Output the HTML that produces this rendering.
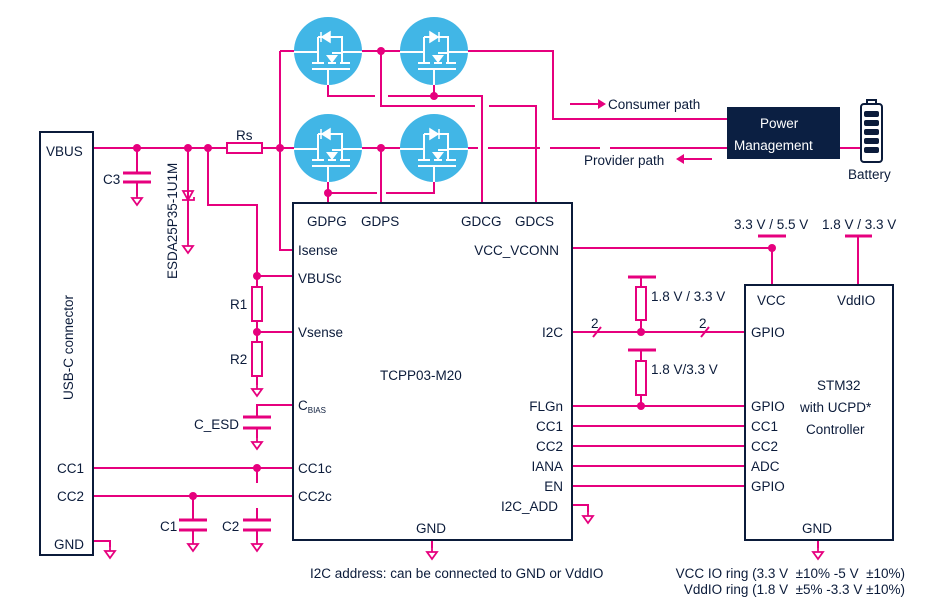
<!DOCTYPE html>
<html><head><meta charset="utf-8"><style>
html,body{margin:0;padding:0;background:#fff}
svg{display:block}
text{font-family:"Liberation Sans",sans-serif;font-size:13.5px;fill:#0b1b3a;white-space:pre}
</style></head><body>
<svg width="925" height="611" viewBox="0 0 925 611" xmlns="http://www.w3.org/2000/svg">
<defs>
<g id="gnd"><path d="M0 0 V6 M-5 6 H5 L0 13 Z" fill="none" stroke="#e6007e" stroke-width="1.8"/></g>
<g id="fet">
<circle r="34" fill="#41b6e6"/>
<g stroke="#fff" stroke-width="2" fill="none">
<path d="M-34 1 H-10 M14 1 H34 M-10 -14 V12 M-10 -14 H14 V12 M-16 12 H-4 M0 12 H8 M12 12 H22 M-16 18 H22 M4 2 H14 M0 18 V34"/>
</g>
<path d="M-2 4 H10 L4 12 Z" fill="#fff"/>
</g>
</defs>
<g stroke="#e6007e" stroke-width="2" fill="none">
<path d="M93 148 H227 M262 148 H295"/>
<rect x="227" y="143" width="35" height="10"/>
<path d="M137 148 V173"/>
<path d="M123 173 H151 M123 182 H151" stroke-width="3"/>
<path d="M137 182 V196"/>
<path d="M188 148 V240"/>
<path d="M208 148 V205 H257 V287 M257 276 H293"/>
<rect x="252" y="287" width="10" height="34"/>
<path d="M257 321 V342 M257 332 H293"/>
<rect x="252" y="342" width="10" height="34"/>
<path d="M257 376 V385"/>
<path d="M293 405 H257 V417"/>
<path d="M243 417 H271 M243 428 H271" stroke-width="3"/>
<path d="M257 428 V438"/>
<path d="M93 468 H293 M257 468 V483 M93 496 H293"/>
<path d="M193 496 V520 M257 508 V520"/>
<path d="M179 520 H207 M179 530 H207 M243 520 H271 M243 530 H271" stroke-width="3"/>
<path d="M193 530 V540 M257 530 V540"/>
<path d="M93 541 H110 V547"/>
<path d="M280 51 H294 M280 51 V250 H293"/>
<path d="M362 51 H401 M468 51 H553 V119 H727"/>
<path d="M362 148 H401"/>
<path d="M468 148 H478 M488 148 H540 M550 148 H600 M610 148 H727" />
<path d="M328 85 V96 H375 M388 96 H482 V203"/>
<path d="M434 85 V96"/>
<path d="M381 51 V106 H475 M489 106 H536 V203"/>
<path d="M328 182 V203 M328 193 H377 M386 193 H434 V182"/>
<path d="M381 148 V203"/>
<path d="M840 148 H862"/>
<path d="M570 104 H598 M712 159 H684"/>
<path d="M572 248 H772 V285 M858 237 V285"/>
<path d="M758 236 H786 M845 236 H872" stroke-width="3"/>
<path d="M572 332 H745"/>
<path d="M593 337 L601 327 M701 337 L709 327"/>
<path d="M628 277 H656" stroke-width="3"/>
<path d="M641 277 V287 M641 320 V332"/>
<rect x="636" y="287" width="10" height="33"/>
<path d="M628 350 H656" stroke-width="3"/>
<path d="M641 350 V361 M641 395 V406"/>
<rect x="636" y="361" width="10" height="34"/>
<path d="M572 406 H745 M572 426 H745 M572 446 H745 M572 466 H745 M572 486 H745"/>
<path d="M572 505 H588 V512"/>
<path d="M432 540 V548 M818 540 V548"/>
</g>
<g stroke="#e6007e" stroke-width="1.8" fill="none">
<path d="M183 191 L188 200 L193 191 Z M182 200 H194 V197"/>
</g>
<g fill="#e6007e">
<path d="M598 99 L606 104 L598 109 Z M684 154 L676 159 L684 164 Z"/>
<circle cx="137" cy="148" r="4"/><circle cx="188" cy="148" r="4"/><circle cx="208" cy="148" r="4"/><circle cx="280" cy="148" r="4"/>
<circle cx="257" cy="276" r="4"/><circle cx="257" cy="332" r="4"/><circle cx="257" cy="468" r="4"/><circle cx="193" cy="496" r="4"/>
<circle cx="381" cy="51" r="4"/><circle cx="381" cy="148" r="4"/><circle cx="434" cy="96" r="4"/><circle cx="328" cy="193" r="4"/>
<circle cx="772" cy="248" r="4"/><circle cx="641" cy="332" r="4"/><circle cx="641" cy="406" r="4"/>
</g>
<use href="#gnd" x="137" y="192"/><use href="#gnd" x="188" y="240"/><use href="#gnd" x="257" y="383"/>
<use href="#gnd" x="257" y="436"/><use href="#gnd" x="193" y="538"/><use href="#gnd" x="257" y="538"/>
<use href="#gnd" x="110" y="545"/><use href="#gnd" x="588" y="510"/><use href="#gnd" x="432" y="546"/><use href="#gnd" x="818" y="546"/>
<use href="#fet" x="328" y="51"/><use href="#fet" x="434" y="51"/>
<use href="#fet" x="328" y="148"/><use href="#fet" x="434" y="148"/>
<g fill="#fff" stroke="#fff" stroke-width="1.5">
<path d="M330 32 L322 37 L330 42 Z M321 32 V42"/>
<path d="M330 129 L322 134 L330 139 Z M321 129 V139"/>
<path d="M430 32 L438 37 L430 42 Z M439 32 V42"/>
<path d="M430 129 L438 134 L430 139 Z M439 129 V139"/>
</g>
<g fill="none" stroke="#0b1b3a" stroke-width="2">
<rect x="40" y="132" width="53" height="423"/>
<rect x="293" y="203" width="279" height="337"/>
<rect x="745" y="285" width="148" height="255"/>
<rect x="861" y="104" width="21" height="58" rx="3"/>
<rect x="867" y="100" width="9" height="4"/>
</g>
<g fill="#0b1b3a">
<rect x="864" y="111" width="15" height="6" rx="2"/><rect x="864" y="120" width="15" height="6" rx="2"/><rect x="864" y="129" width="15" height="6" rx="2"/><rect x="864" y="138" width="15" height="6" rx="2"/><rect x="864" y="147" width="15" height="6" rx="2"/>
</g>
<rect x="727" y="107" width="113" height="52" fill="#0b1f42"/>
<text x="760" y="128" style="fill:#fff">Power</text>
<text x="734" y="150" style="fill:#fff">Management</text>
<text x="848" y="179">Battery</text>
<text x="608" y="109">Consumer path</text>
<text x="584" y="165">Provider path</text>
<text x="46" y="156">VBUS</text>
<text x="57" y="473">CC1</text>
<text x="57" y="501">CC2</text>
<text x="54" y="549">GND</text>
<text transform="translate(73,400) rotate(-90)">USB-C connector</text>
<text transform="translate(177,279) rotate(-90)" font-size="14">ESDA25P35-1U1M</text>
<text x="103" y="184">C3</text>
<text x="236" y="140">Rs</text>
<text x="230" y="309">R1</text>
<text x="230" y="364">R2</text>
<text x="194" y="429">C_ESD</text>
<text x="160" y="531">C1</text>
<text x="222" y="531">C2</text>
<text x="307" y="226">GDPG</text><text x="361" y="226">GDPS</text>
<text x="461" y="226">GDCG</text><text x="515" y="226">GDCS</text>
<text x="298" y="255">Isense</text><text x="298" y="283">VBUSc</text><text x="298" y="337">Vsense</text>
<text x="298" y="410">C<tspan font-size="8" dy="3">BIAS</tspan></text>
<text x="298" y="473">CC1c</text><text x="298" y="501">CC2c</text>
<text x="380" y="380">TCPP03-M20</text>
<g text-anchor="end">
<text x="559" y="255">VCC_VCONN</text><text x="563" y="337">I2C</text>
<text x="563" y="411">FLGn</text><text x="563" y="431">CC1</text><text x="563" y="451">CC2</text>
<text x="563" y="471">IANA</text><text x="563" y="491">EN</text><text x="558" y="511">I2C_ADD</text>
</g>
<text x="416" y="533">GND</text>
<text x="310" y="578">I2C address: can be connected to GND or VddIO</text>
<text x="734" y="229">3.3 V / 5.5 V</text>
<text x="822" y="229">1.8 V / 3.3 V</text>
<text x="651" y="301">1.8 V / 3.3 V</text>
<text x="651" y="374">1.8 V/3.3 V</text>
<text x="591" y="328" font-size="11">2</text><text x="699" y="328" font-size="11">2</text>
<text x="757" y="305">VCC</text><text x="837" y="305">VddIO</text>
<text x="751" y="337">GPIO</text><text x="751" y="411">GPIO</text><text x="751" y="431">CC1</text>
<text x="751" y="451">CC2</text><text x="751" y="471">ADC</text><text x="751" y="491">GPIO</text>
<text x="817" y="390">STM32</text><text x="800" y="412">with UCPD*</text><text x="806" y="434">Controller</text>
<text x="802" y="533">GND</text>
<text x="905" y="578" text-anchor="end">VCC IO ring (3.3 V  ±10% -5 V  ±10%)</text>
<text x="905" y="594" text-anchor="end">VddIO ring (1.8 V  ±5% -3.3 V ±10%)</text>
</svg>
</body></html>
